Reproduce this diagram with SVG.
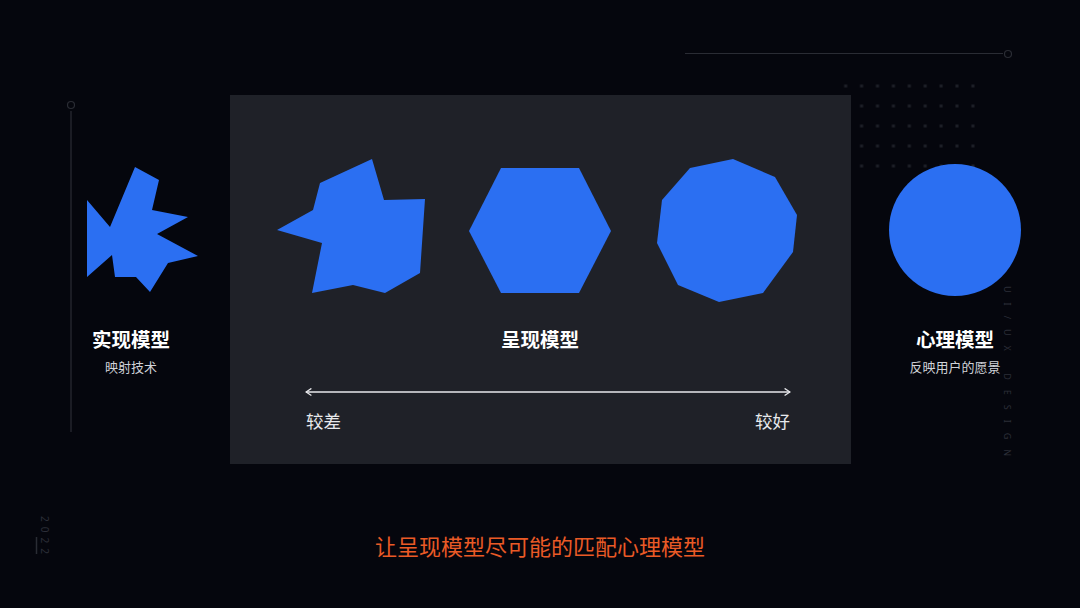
<svg xmlns="http://www.w3.org/2000/svg" width="1080" height="608" viewBox="0 0 1080 608">
<style>
.blue{fill:#2b6ff2}
.title{font-family:"Noto Sans CJK SC","Noto Sans",sans-serif;font-size:19.5px;font-weight:bold;fill:#ffffff;text-anchor:middle}
.sub{font-family:"Noto Sans CJK SC","Noto Sans",sans-serif;font-size:13px;fill:#d0d2d8;text-anchor:middle}
.lbl{font-family:"Noto Sans CJK SC","Noto Sans",sans-serif;font-size:17.5px;fill:#e8e9ec}
.deco{stroke:#2a2c34;stroke-width:1.2;fill:none}
.faint{font-family:"Noto Sans","DejaVu Sans",sans-serif;font-size:9px;fill:#2c2e38;letter-spacing:10px}
.year{font-family:"Noto Sans","DejaVu Sans",sans-serif;font-size:10px;fill:#2c2e38;letter-spacing:5px}
</style>
<defs>
<pattern id="dots" x="0" y="0" width="15.9" height="20" patternUnits="userSpaceOnUse">
<rect x="1.5" y="4.5" width="3" height="3" fill="#1d1f27"/>
</pattern>
<marker id="chev" viewBox="0 0 10 10" refX="9" refY="5" markerWidth="9" markerHeight="9" orient="auto-start-reverse" markerUnits="userSpaceOnUse">
<path d="M3,1 L9,5 L3,9" fill="none" stroke="#e8e9ec" stroke-width="1.4"/>
</marker>
</defs>
<rect width="1080" height="608" fill="#05060d"/>
<g id="decor">
<rect x="839.5" y="80" width="143" height="92" fill="url(#dots)"/>
<line x1="685" y1="53.5" x2="1003" y2="53.5" class="deco"/>
<circle cx="1008" cy="54" r="3.5" class="deco" stroke="#3a3c44"/>
<line x1="71" y1="111" x2="71" y2="432" class="deco"/>
<circle cx="71" cy="105" r="3.5" class="deco" stroke="#3a3c44"/>
<text class="faint" transform="translate(1004,286) rotate(90)">UI/UX DESIGN</text>
<text class="year" transform="translate(41,516) rotate(90)">2022</text>
<line x1="36.5" y1="537" x2="36.5" y2="554" stroke="#2a2c34" stroke-width="1.5"/>
</g>
<rect id="panel" x="230" y="95" width="621" height="369" fill="#1f2128"/>
<g id="realModel">
<polygon class="blue" points="135,167 159,180 152,210 188,217 157,234 198,256 168,263 150,292 136,277 115,277 112,255 87,277 87,200 110,227"/>
<text class="title" x="131" y="347">实现模型</text>
<text class="sub" x="131" y="372">映射技术</text>
</g>
<g id="presentModel">
<polygon class="blue" points="372,159 384,200 425,199 420,273 385,293 353,285 312,293 322,243 277,230 313,210 320,183"/>
<polygon class="blue" points="469,231 501,168 579,168 611,231 579,293 501,293"/>
<polygon class="blue" points="733,159 775,177 797,215 793,252 763,293 719,302 678,285 657,243 662,200 690,168"/>
<text class="title" x="540" y="347">呈现模型</text>
</g>
<g id="mentalModel">
<circle class="blue" cx="955" cy="230" r="66"/>
<text class="title" x="955" y="347">心理模型</text>
<text class="sub" x="955" y="372">反映用户的愿景</text>
</g>
<g id="connectors">
<line x1="306" y1="392" x2="790" y2="392" stroke="#e8e9ec" stroke-width="1.4" marker-start="url(#chev)" marker-end="url(#chev)"/>
</g>
<text class="lbl" x="306" y="428">较差</text>
<text class="lbl" x="790" y="428" text-anchor="end">较好</text>
<text x="540" y="555" font-family="'Noto Sans CJK SC','Noto Sans',sans-serif" font-size="22" fill="#ea5a26" text-anchor="middle">让呈现模型尽可能的匹配心理模型</text>
</svg>
